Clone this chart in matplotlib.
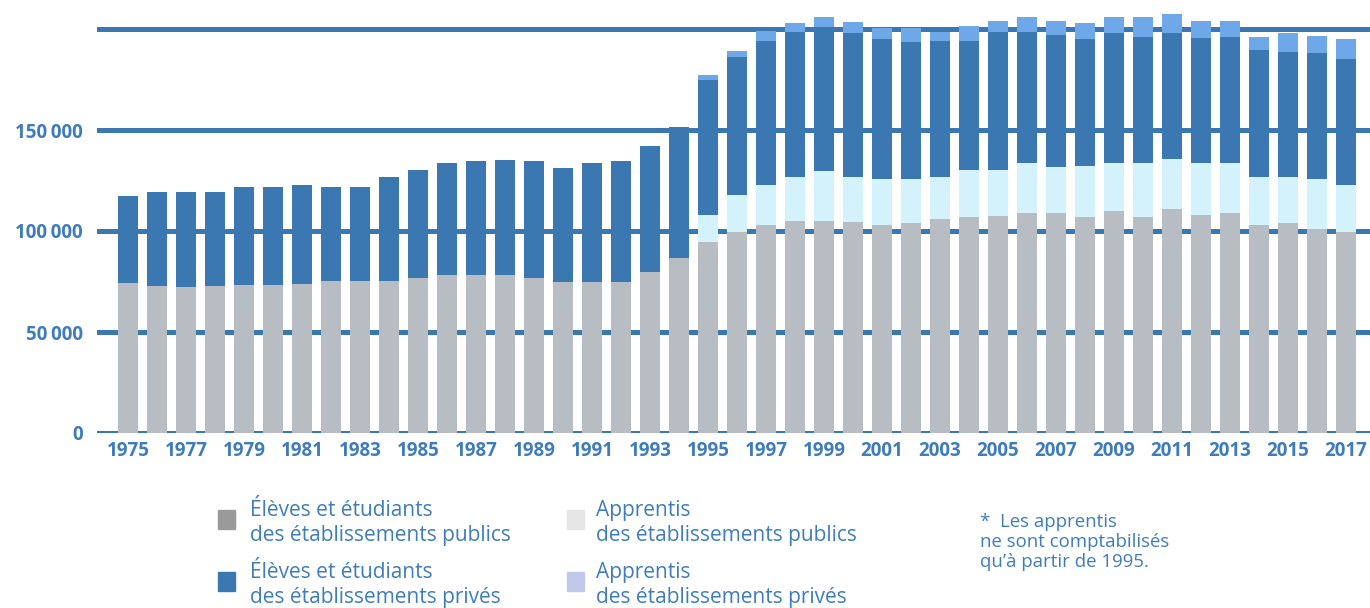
import matplotlib.pyplot as plt
from matplotlib.patches import Rectangle
import numpy as np

plt.rcParams['font.family'] = ['Open Sans', 'DejaVu Sans']

years = list(range(1975, 2018))
# effectifs en milliers
public_students = [74.1, 72.9, 72.1, 72.9, 73.3, 73.3, 73.9, 75.1, 75.1, 75.1,
                   76.7, 78.1, 78.1, 78.1, 76.9, 74.9, 74.9, 74.9, 79.9, 86.8,
                   94.7, 99.7, 102.8, 104.9, 104.9, 104.6, 103.0, 103.8, 105.9, 107.1,
                   107.6, 108.8, 108.8, 107.1, 110.0, 107.1, 111.0, 107.9, 108.8, 103.0,
                   103.8, 101.1, 99.4]
public_apprentices = [0] * 20 + [13.1, 18.1, 20.0, 22.0, 24.8, 22.3, 22.6, 21.8, 21.0, 23.1,
                                 22.6, 24.7, 23.0, 25.2, 23.5, 26.4, 24.5, 25.6, 24.7, 23.9,
                                 23.1, 24.5, 23.4]
private_students = [43.4, 46.4, 47.2, 46.4, 48.3, 48.3, 48.7, 46.8, 46.8, 51.6,
                    53.5, 55.4, 56.4, 57.2, 57.6, 56.4, 58.8, 59.6, 62.0, 64.8,
                    67.0, 68.5, 71.4, 71.8, 71.4, 70.9, 69.3, 68.1, 67.3, 64.0,
                    68.5, 65.2, 65.4, 62.6, 64.3, 62.4, 62.3, 61.9, 62.4, 62.7,
                    61.9, 62.3, 62.2]
private_apprentices = [0] * 20 + [2.6, 3.0, 4.6, 4.4, 4.7, 5.5, 5.4, 6.6, 4.5, 7.3,
                                  5.3, 7.1, 6.9, 8.2, 8.0, 9.9, 9.6, 8.6, 8.1, 6.3,
                                  9.0, 8.8, 9.9]
yticks = [0, 50000, 100000, 150000]
ytick_labels = ['0', '50\u2009000', '100\u2009000', '150\u2009000']
legend_labels = ['Élèves et étudiants\ndes établissements publics',
                 'Apprentis\ndes établissements publics',
                 'Élèves et étudiants\ndes établissements privés',
                 'Apprentis\ndes établissements privés']

blue = '#3b78b2'
txt = '#3f7cbb'

fig = plt.figure(figsize=(13.7, 6.08), dpi=100)
ax = fig.add_axes([97 / 1370, 1 - 433 / 608, 1 - 97 / 1370, 212 * 2.02 / 608])

x = np.arange(len(years))
s1 = np.array(public_students) * 1000
s2 = np.array(public_apprentices) * 1000
s3 = np.array(private_students) * 1000
s4 = np.array(private_apprentices) * 1000
w = 0.67
ax.bar(x, s1, w, color='#b8bcc3', zorder=2)
ax.bar(x, s2, w, bottom=s1, color='#d4f2fc', zorder=2)
ax.bar(x, s3, w, bottom=s1 + s2, color=blue, zorder=2)
ax.bar(x, s4, w, bottom=s1 + s2 + s3, color='#6fa8e8', zorder=2)

for v in [0, 50000, 100000, 150000, 200000]:
    ax.axhline(v, color=blue, lw=3.6, zorder=1)

ax.set_xlim(-1.07, 42.83)
ax.set_ylim(0, 212000)
ax.set_yticks(yticks)
ax.set_yticklabels(ytick_labels)
ax.set_xticks(x[::2])
ax.set_xticklabels([str(y) for y in years[::2]])
ax.tick_params(length=0, colors=txt, labelsize=13.5)
ax.tick_params(axis='y', pad=10)
ax.tick_params(axis='x', pad=6)
for lab in ax.get_xticklabels() + ax.get_yticklabels():
    lab.set_fontweight('bold')
for sp in ax.spines.values():
    sp.set_visible(False)

# legende manuelle
sw_colors = ['#9a9a9a', '#e6e6e6', blue, '#c0c8ec']
pos = [(218, 510, 250), (567, 510, 596), (218, 572, 250), (567, 572, 596)]
for (px, py, tx), c, lab in zip(pos, sw_colors, legend_labels):
    fig.patches.append(Rectangle((px / 1370, 1 - (py + 19) / 608), 17 / 1370, 19 / 608,
                                 transform=fig.transFigure, color=c))
    fig.text(tx / 1370, 1 - (py - 10) / 608, lab, color=txt, fontsize=15,
             va='top', ha='left', linespacing=1.25)

fig.text(980 / 1370, 1 - 513 / 608,
         "*  Les apprentis\nne sont comptabilisés\nqu\u2019à partir de 1995.",
         color=txt, fontsize=13.4, va='top', ha='left', linespacing=1.15)

fig.savefig('out.png', dpi=100)
